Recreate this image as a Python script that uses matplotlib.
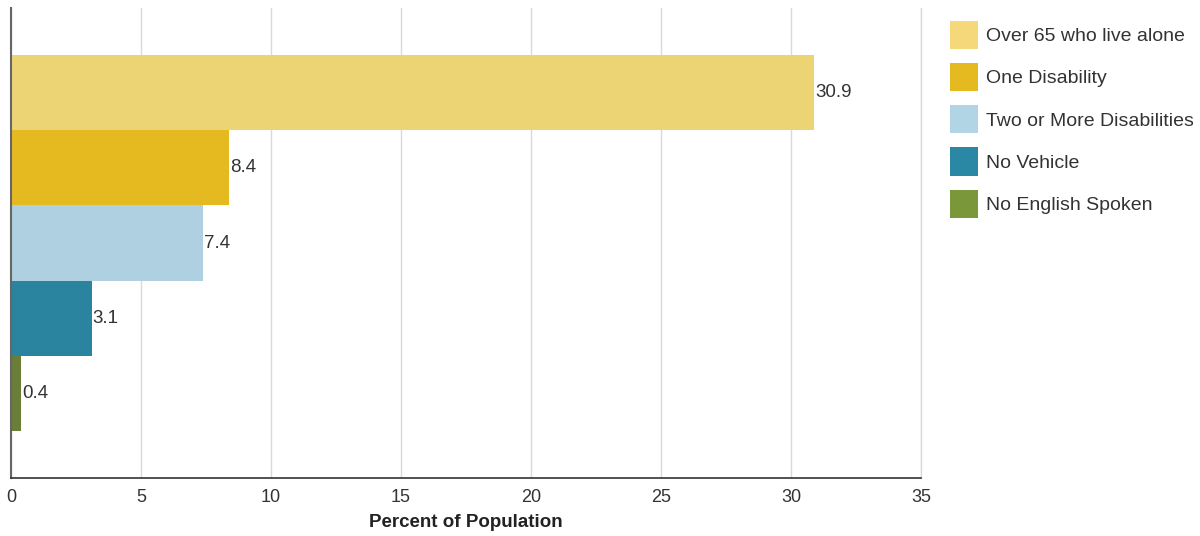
import matplotlib
matplotlib.use("Agg")
import matplotlib.pyplot as plt
from matplotlib.patches import Patch
import numpy as np

plt.rcParams['font.family'] = ['Liberation Sans', 'DejaVu Sans']

series = ["Over 65 who live alone", "One Disability", "Two or More Disabilities",
          "No Vehicle", "No English Spoken"]
values = [30.9, 8.4, 7.4, 3.1, 0.4]
bar_colors = ["#ECD475", "#E5BA21", "#AFD0E0", "#2A849F", "#6A7E37"]
legend_colors = ["#F5D879", "#E5BA21", "#B1D5E5", "#2A88A4", "#7A973A"]
xticks = [0, 5, 10, 15, 20, 25, 30, 35]

fig = plt.figure(figsize=(12, 5.36), dpi=100)
ax = fig.add_axes([11/1200, 1 - 478/536, 910/1200, 470/536])

n = len(series)
group_w = 0.8
bh = group_w / n
for i, (name, v, c) in enumerate(zip(series, values, bar_colors)):
    y = group_w / 2 - bh * (i + 0.5)
    ax.barh(y, v, height=bh, color=c, linewidth=0, zorder=2)
    ax.text(v + 0.02, y, f"{v}", va="center", ha="left", fontsize=13.5, color="#333333", zorder=3)

ax.set_xlim(0, 35)
ax.set_ylim(-0.5, 0.5)
ax.set_xticks(xticks)
ax.set_xticklabels([str(t) for t in xticks], fontsize=13, color="#333333")
ax.set_yticks([])
ax.tick_params(axis='x', length=0, pad=8)
ax.grid(axis='x', color="#d9d9d9", linewidth=1, zorder=0)
ax.axvline(xticks[-1], color="#d9d9d9", linewidth=1, zorder=0, clip_on=False)
ax.set_axisbelow(True)
for s in ["top", "right"]:
    ax.spines[s].set_visible(False)
ax.spines["left"].set_color("#666666")
ax.spines["left"].set_linewidth(1.5)
ax.spines["bottom"].set_color("#333333")
ax.spines["bottom"].set_linewidth(1.2)
ax.set_xlabel("Percent of Population", fontsize=13.5, fontweight="bold", color="#222222", labelpad=6)

handles = [Patch(facecolor=c, edgecolor='none', label=s) for s, c in zip(series, legend_colors)]
fig.legend(handles=handles, loc="upper left", bbox_to_anchor=(950/1200, 1 - 21/536),
           frameon=False, fontsize=14, handlelength=1.45, handleheight=1.85,
           handletextpad=0.4, labelspacing=0.72, labelcolor="#333333", borderaxespad=0,
           borderpad=0)

fig.savefig("out.png", dpi=100)
